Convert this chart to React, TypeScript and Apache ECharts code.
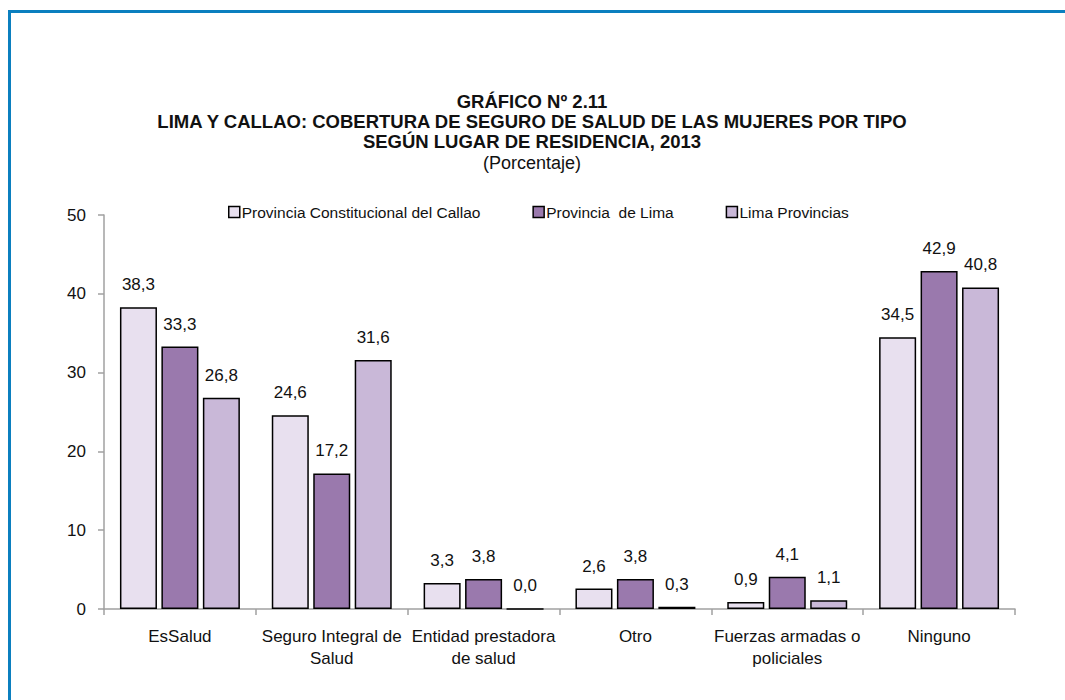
import React, { useEffect, useRef } from "react";
import * as echarts from "echarts";

const categories = [
  "EsSalud",
  "Seguro Integral de\nSalud",
  "Entidad prestadora\nde salud",
  "Otro",
  "Fuerzas armadas o\npoliciales",
  "Ninguno",
];
const seriesNames = ["Provincia Constitucional del Callao", "Provincia  de Lima", "Lima Provincias"];
const callao = [38.3, 24.6, 3.3, 2.6, 0.9, 34.5];
const lima = [33.3, 17.2, 3.8, 3.8, 4.1, 42.9];
const limaProv = [26.8, 31.6, 0.0, 0.3, 1.1, 40.8];
const yTicks = [0, 10, 20, 30, 40, 50];
const titleLines = [
  "GRÁFICO Nº 2.11",
  "LIMA Y CALLAO: COBERTURA DE SEGURO DE SALUD DE LAS MUJERES POR TIPO",
  "SEGÚN LUGAR DE RESIDENCIA, 2013",
];
const subtitle = "(Porcentaje)";

const FONT = "'Liberation Sans', Arial, sans-serif";
const colors = ["#e8e0ef", "#9a79ad", "#c9b8d8"];

export default function App() {
  const ref = useRef<HTMLDivElement>(null);
  useEffect(() => {
    if (!ref.current) return;
    const chart = echarts.init(ref.current, null, { renderer: "svg" });
    const mk = (name: string, data: number[], i: number) => ({
      name,
      type: "bar",
      data,
      barGap: "12%",
      barCategoryGap: "21%",
      itemStyle: { color: colors[i], borderColor: "#000", borderWidth: 1.5 },
      label: {
        show: true,
        position: "top",
        distance: 14,
        fontFamily: FONT,
        fontSize: 17,
        color: "#111",
        formatter: (p: any) => Number(p.value).toFixed(1).replace(".", ","),
      },
    });
    const titleY = [101, 121, 141];
    chart.setOption({
      animation: false,
      textStyle: { fontFamily: FONT },
      legend: {
        top: 199,
        left: 223,
        itemWidth: 11,
        itemHeight: 11,
        itemGap: 52,
        icon: "rect",
        textStyle: { fontFamily: FONT, fontSize: 15.5, color: "#111", padding: [0, 0, 0, -3] },
        data: seriesNames.map((n, i) => ({
          name: n,
          itemStyle: { color: colors[i], borderColor: "#000", borderWidth: 1.5 },
        })),
      },
      grid: { left: 104, right: 50, top: 215, bottom: 91, containLabel: false },
      xAxis: {
        type: "category",
        data: categories,
        axisLine: { lineStyle: { color: "#a0a0a0", width: 1.5 } },
        axisTick: { show: true, length: 6, lineStyle: { color: "#a0a0a0", width: 1.5 } },
        axisLabel: { fontFamily: FONT, fontSize: 17, color: "#111", margin: 16, lineHeight: 22, interval: 0 },
      },
      yAxis: {
        type: "value",
        min: yTicks[0],
        max: yTicks[yTicks.length - 1],
        interval: 10,
        splitLine: { show: false },
        axisLine: { show: true, lineStyle: { color: "#a0a0a0", width: 1.5 } },
        axisTick: { show: true, length: 6, lineStyle: { color: "#a0a0a0", width: 1.5 } },
        axisLabel: { fontFamily: FONT, fontSize: 17, color: "#111", margin: 18 },
      },
      graphic: [
        { type: "line", shape: { x1: 8, y1: 11.5, x2: 1065, y2: 11.5 }, style: { stroke: "#0b7fbf", lineWidth: 3 } },
        { type: "line", shape: { x1: 9.5, y1: 10, x2: 9.5, y2: 700 }, style: { stroke: "#0b7fbf", lineWidth: 3 } },
        ...titleLines.map((t, i) => ({
          type: "text",
          x: 532,
          y: titleY[i],
          style: {
            text: t,
            fontFamily: FONT,
            fontSize: 18.5,
            fontWeight: "bold",
            fill: "#111",
            align: "center",
            verticalAlign: "middle",
          },
        })),
        {
          type: "text",
          x: 532,
          y: 163,
          style: {
            text: subtitle,
            fontFamily: FONT,
            fontSize: 18,
            fill: "#111",
            align: "center",
            verticalAlign: "middle",
          },
        },
      ],
      series: [mk(seriesNames[0], callao, 0), mk(seriesNames[1], lima, 1), mk(seriesNames[2], limaProv, 2)],
    });
    return () => chart.dispose();
  }, []);
  return (
    <div
      ref={ref}
      style={{ position: "fixed", left: 0, top: 0, width: 1065, height: 700, background: "#fff" }}
    />
  );
}
